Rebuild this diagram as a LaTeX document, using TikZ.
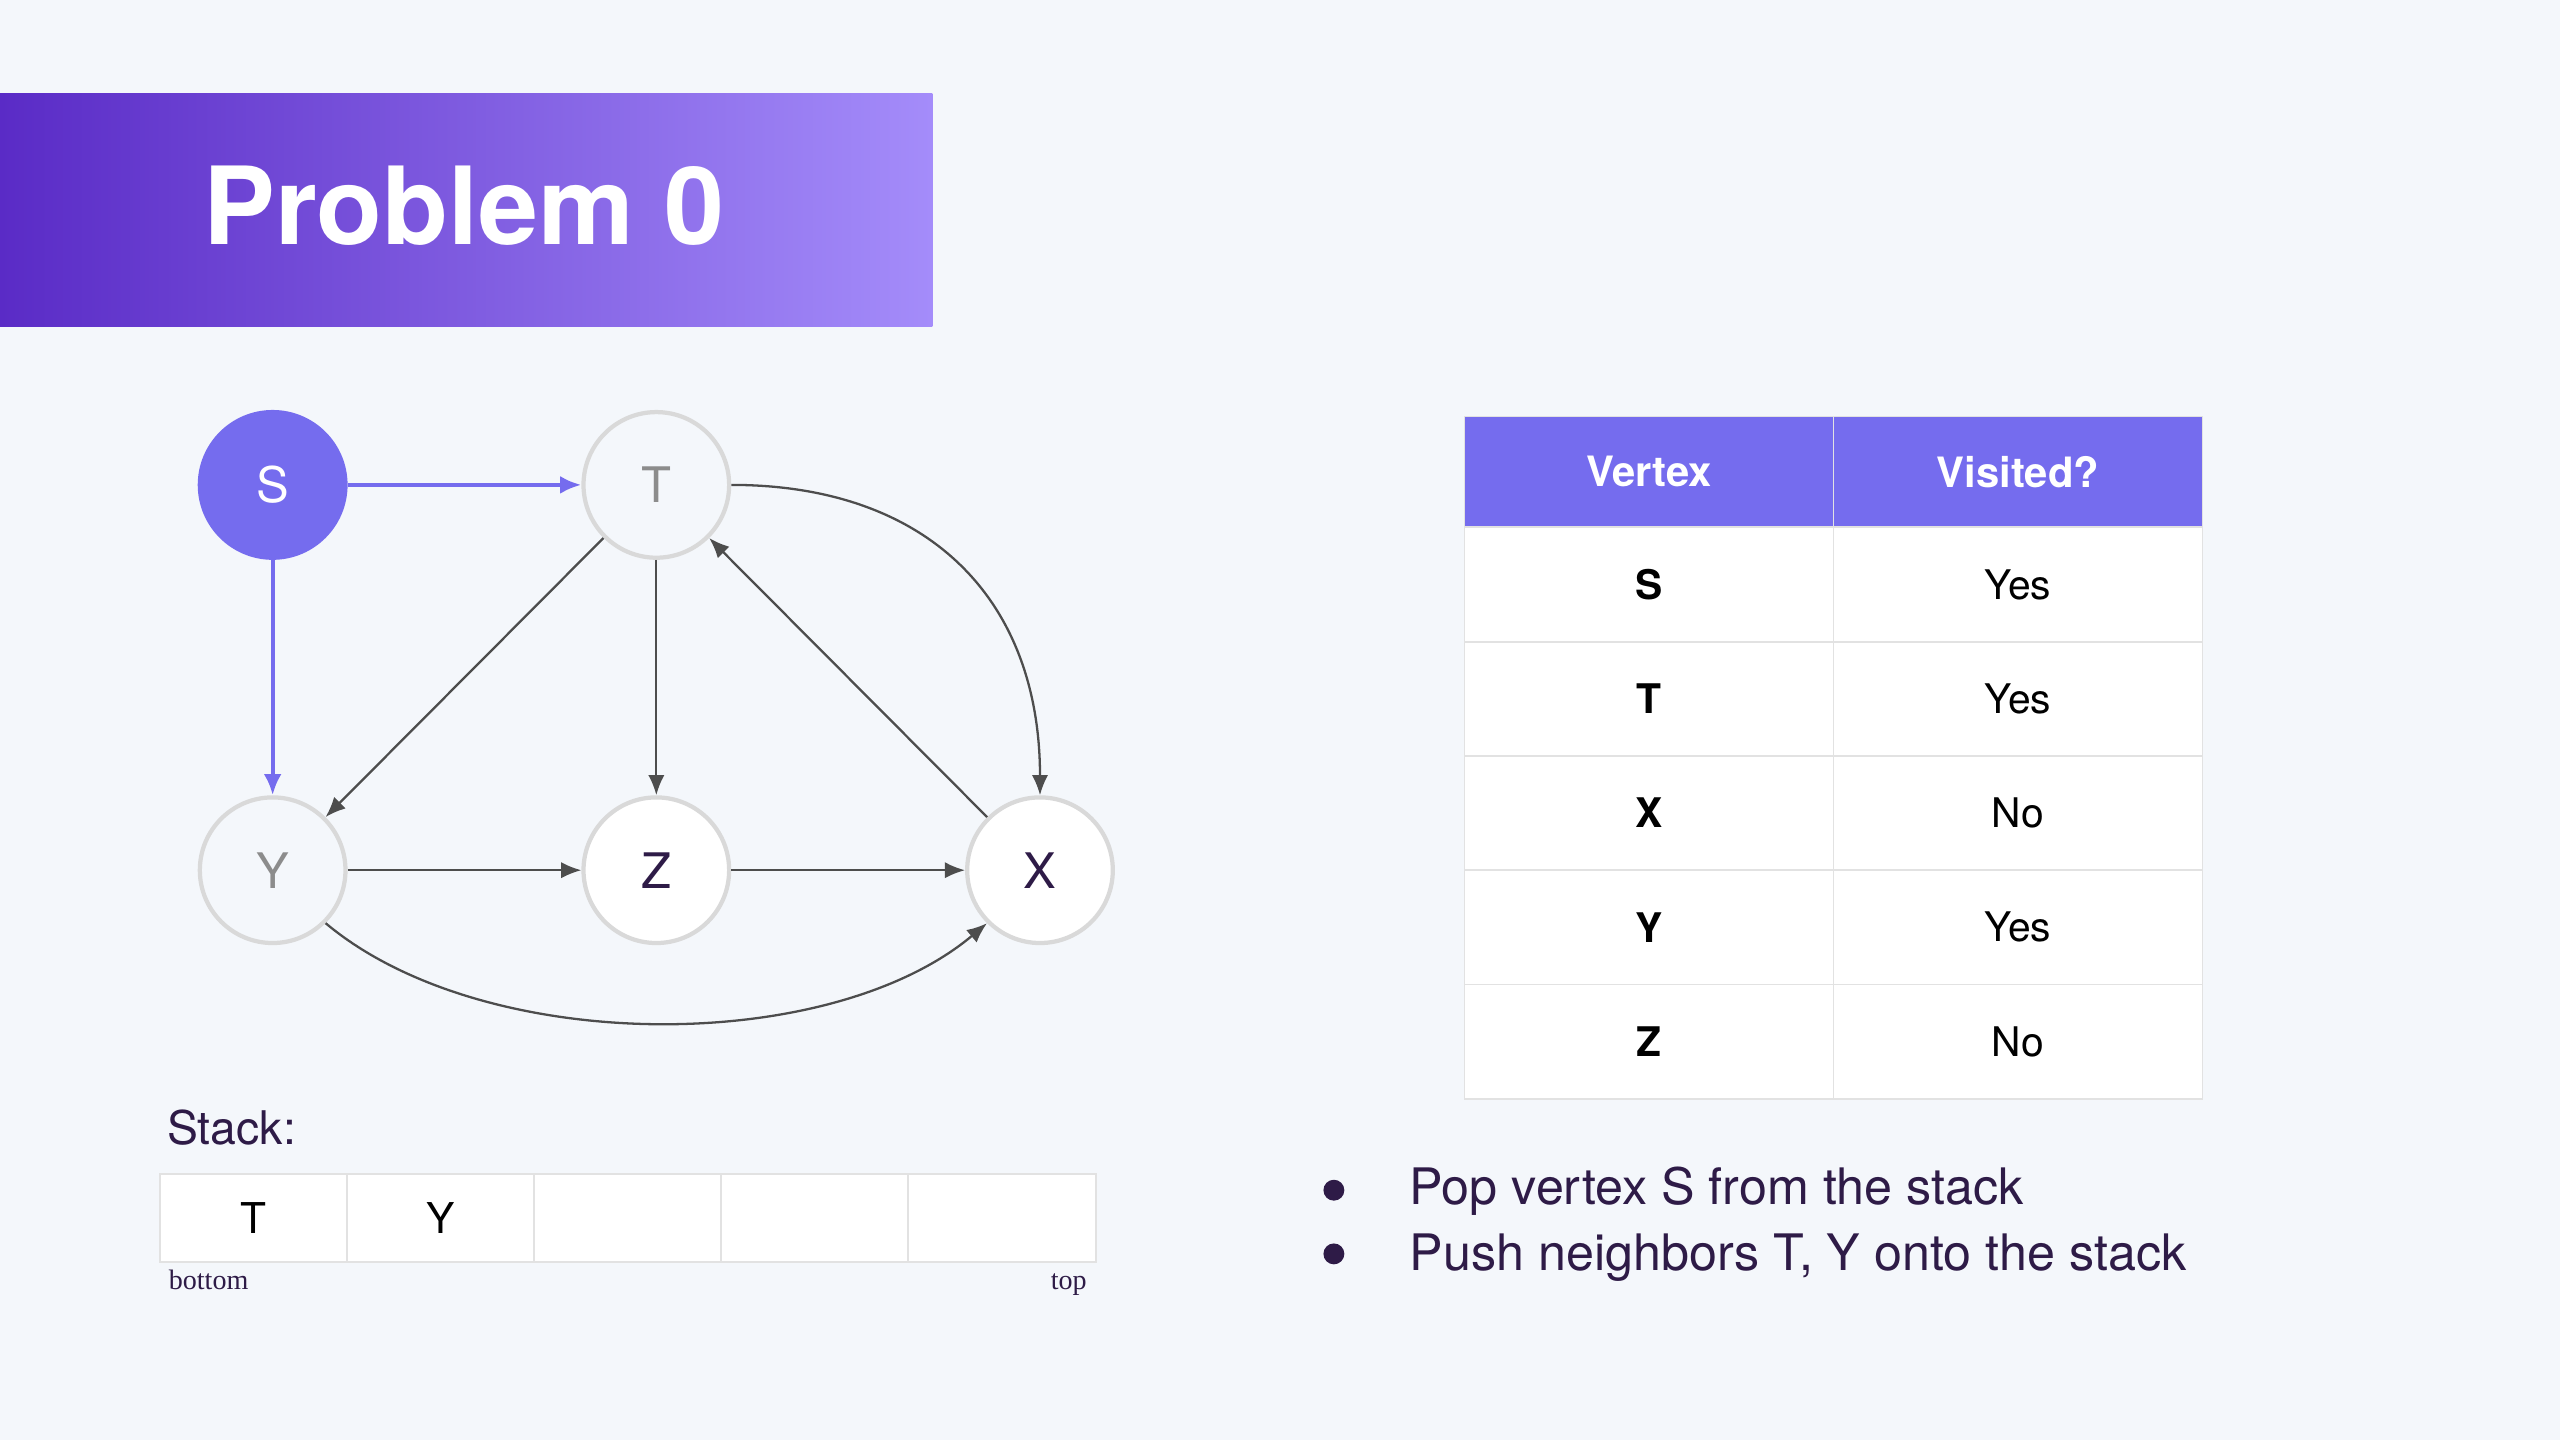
\documentclass[tikz,border=0pt]{standalone}
\usepackage{fontspec}
\setmainfont{TeX Gyre Heros}
\newfontfamily\serifb{Liberation Serif}
\usetikzlibrary{arrows.meta}
\definecolor{bgc}{HTML}{F4F7FB}
\definecolor{accent}{HTML}{756CEE}
\definecolor{darkp}{HTML}{2E1B47}
\definecolor{bord}{HTML}{D9D9D9}
\definecolor{edgec}{HTML}{4D4D4D}
\definecolor{lbl}{HTML}{8C8C8C}
\definecolor{gridc}{HTML}{E2E2E2}
\definecolor{banl}{HTML}{5A2BC6}
\definecolor{banr}{HTML}{A48CFA}
\tikzset{
  vtx/.style={circle, minimum size=44.6pt, inner sep=0pt, line width=1.3pt, font=\fontsize{15}{18}\selectfont},
  startv/.style={vtx, fill=accent, draw=accent, text=white},
  seenv/.style={vtx, fill=bgc, draw=bord, text=lbl},
  freshv/.style={vtx, fill=white, draw=bord, text=darkp},
  edg/.style={draw=edgec, line width=0.7pt, -{Latex[length=6.2pt,width=5pt]}},
  bedge/.style={draw=accent, line width=1.3pt, -{Latex[length=6.5pt,width=5.5pt]}},
  hcell/.style={rectangle, minimum width=113pt, minimum height=34pt, inner sep=0pt, fill=accent, draw=gridc, line width=0.5pt, text=white, font=\bfseries\fontsize{12.8}{15}\selectfont},
  bcell/.style={rectangle, minimum width=113pt, minimum height=35pt, inner sep=0pt, fill=white, draw=gridc, line width=0.6pt, text=black, font=\fontsize{12.5}{15}\selectfont},
  kcell/.style={bcell, font=\bfseries\fontsize{12.5}{15}\selectfont},
  scell/.style={rectangle, minimum width=57.3pt, minimum height=27pt, inner sep=0pt, fill=white, draw=gridc, line width=0.6pt, text=black, font=\fontsize{13}{15}\selectfont},
  btext/.style={anchor=base west, inner sep=0pt, text=darkp, font=\fontsize{15.4}{18}\selectfont},
  small/.style={inner sep=0pt, text=darkp, font=\serifb\fontsize{8.6}{10}\selectfont},
}
\begin{document}
\begin{tikzpicture}[x=0.5pt,y=0.5pt]
\fill[bgc] (0,0) rectangle (1568,-882);
\useasboundingbox (0,0) rectangle (1568,-882);
% banner
\shade[left color=banl, right color=banr] (0,-57) rectangle (571,-200);
\node[text=white, font=\bfseries\fontsize{33}{40}\selectfont] (title) at (284,-126) {Problem 0};
% graph
\node[startv] (S) at (167,-297) {S};
\node[seenv]  (T) at (402,-297) {T};
\node[seenv]  (Y) at (167,-533) {Y};
\node[freshv] (Z) at (402,-533) {Z};
\node[freshv] (X) at (637,-533) {X};
\draw[bedge] (S) -- (T);
\draw[bedge] (S) -- (Y);
\draw[edg] (T) -- (Y);
\draw[edg] (T) -- (Z);
\draw[edg] (X) -- (T);
\draw[edg] (Y) -- (Z);
\draw[edg] (Z) -- (X);
\draw[edg] (T.east) to[out=0,in=90,looseness=1.15] (X.north);
\draw[edg] (Y.-45) to[out=-40,in=-140,looseness=0.8] (X.-135);
% stack
\node[anchor=base west, inner sep=0pt, text=darkp, font=\fontsize{14.2}{17}\selectfont] (stacklbl) at (102,-701) {Stack:};
\node[scell] (s1) at (155.3,-746) {T};
\node[scell] (s2) at (269.9,-746) {Y};
\node[scell] (s3) at (384.5,-746) {};
\node[scell] (s4) at (499.1,-746) {};
\node[scell] (s5) at (613.7,-746) {};
\node[small, anchor=base west] (bot) at (103,-790) {bottom};
\node[small, anchor=base east] (topl) at (666,-790) {top};
% table
\node[hcell] (h1) at (1010,-289) {Vertex};
\node[hcell] (h2) at (1236,-289) {Visited?};
\node[kcell] (r1a) at (1010,-358) {S};
\node[bcell] (r1b) at (1236,-358) {Yes};
\node[kcell] (r2a) at (1010,-428) {T};
\node[bcell] (r2b) at (1236,-428) {Yes};
\node[kcell] (r3a) at (1010,-498) {X};
\node[bcell] (r3b) at (1236,-498) {No};
\node[kcell] (r4a) at (1010,-568) {Y};
\node[bcell] (r4b) at (1236,-568) {Yes};
\node[kcell] (r5a) at (1010,-638) {Z};
\node[bcell] (r5b) at (1236,-638) {No};
% bullets
\fill[darkp] (817,-729) circle[radius=3.2pt];
\fill[darkp] (817,-768) circle[radius=3.2pt];
\node[btext] (b1) at (863,-738) {Pop vertex S from the stack};
\node[btext] (b2) at (863,-778) {Push neighbors T, Y onto the stack};
\end{tikzpicture}
\end{document}
